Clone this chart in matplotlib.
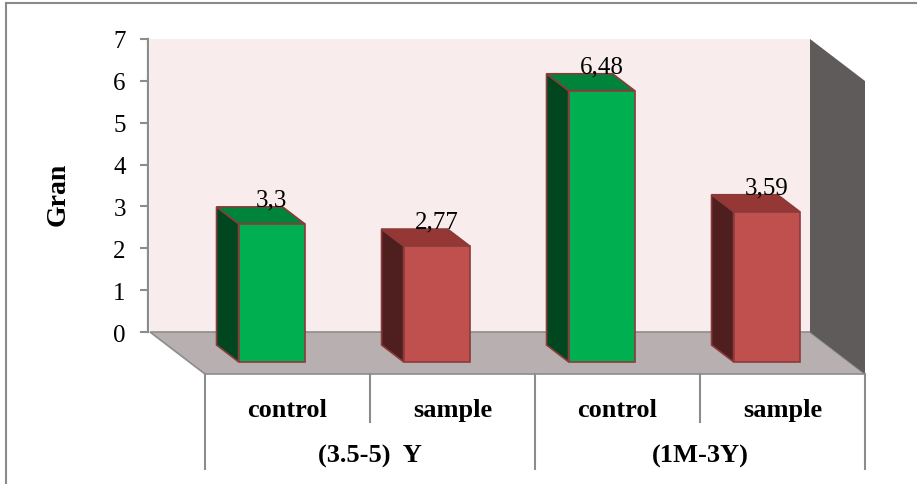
import matplotlib
matplotlib.use("Agg")
import matplotlib.pyplot as plt
from matplotlib.patches import Polygon
from matplotlib.lines import Line2D

# data
groups = ["(3.5-5)  Y", "(1M-3Y)"]
categories = ["control", "sample", "control", "sample"]
values = [3.3, 2.77, 6.48, 3.59]
value_labels = ["3,3", "2,77", "6,48", "3,59"]
y_label = "Gran"
y_max = 7

# colours (front, side, top)
GREEN = ("#00B050", "#00471F", "#00833A")
RED = ("#C0504D", "#4F1E1E", "#953735")
bar_colors = [GREEN, RED, GREEN, RED]
EDGE = "#8B3A3A"
WALL = "#F8ECEC"
FLOOR = "#B8B0B0"
SIDE = "#5F5B5A"
LINE = "#8C8C8C"

# oblique projection: one unit of depth moves right and down
DX = 0.3333
DY = -1.0033
D_BACK, D_FRONT = 0.31, 0.71
HALF_W = 0.2


def proj(x, v, d):
    return (x + d * DX, v + d * DY)


plt.rcParams["font.family"] = ["Liberation Serif", "DejaVu Serif"]

fig = plt.figure(figsize=(9.17, 4.85), dpi=100)
ax = fig.add_axes([0, 0, 1, 1])
ax.set_xlim(-0.9091, 4.6485)
ax.set_ylim(-3.631, 7.955)
ax.set_facecolor("white")

n = len(categories)

# back wall, floor and right side wall
ax.add_patch(Polygon([proj(0, 0, 0), proj(n, 0, 0), proj(n, y_max, 0), proj(0, y_max, 0)],
                     closed=True, facecolor=WALL, edgecolor="none", zorder=1))
ax.add_patch(Polygon([proj(0, 0, 0), proj(n, 0, 0), proj(n, 0, 1), proj(0, 0, 1)],
                     closed=True, facecolor=FLOOR, edgecolor=LINE, lw=1.2, zorder=1))
ax.add_patch(Polygon([proj(n, 0, 0), proj(n, y_max, 0), proj(n, y_max, 1), proj(n, 0, 1)],
                     closed=True, facecolor=SIDE, edgecolor="none", zorder=1))

# bars
for i, (val, (c_front, c_side, c_top)) in enumerate(zip(values, bar_colors)):
    x0 = i + 0.5 - HALF_W
    x1 = i + 0.5 + HALF_W
    side = [proj(x0, 0, D_BACK), proj(x0, val, D_BACK), proj(x0, val, D_FRONT), proj(x0, 0, D_FRONT)]
    top = [proj(x0, val, D_BACK), proj(x1, val, D_BACK), proj(x1, val, D_FRONT), proj(x0, val, D_FRONT)]
    front = [proj(x0, 0, D_FRONT), proj(x1, 0, D_FRONT), proj(x1, val, D_FRONT), proj(x0, val, D_FRONT)]
    for pts, col in ((side, c_side), (top, c_top), (front, c_front)):
        ax.add_patch(Polygon(pts, closed=True, facecolor=col, edgecolor=EDGE, lw=1.2, zorder=3))
    lx = i + 0.5 + D_FRONT * DX
    ly = val + D_BACK * DY + 0.03
    ax.text(lx, ly, value_labels[i], ha="center", va="baseline", fontsize=18, zorder=4)

# value axis on the back wall
for name in ["top", "right", "bottom"]:
    ax.spines[name].set_visible(False)
ax.spines["left"].set_position(("data", -0.012))
ax.spines["left"].set_bounds(0, y_max)
ax.spines["left"].set_color(LINE)
ax.spines["left"].set_linewidth(1.6)
ax.spines["left"].set_zorder(2)
ax.set_yticks(range(0, y_max + 1))
ax.tick_params(axis="y", direction="out", length=6, width=1.5, color=LINE,
               labelsize=18, pad=10)
ax.set_xticks([])

ax.text(-0.558, 3.30, y_label, rotation=90, ha="center", va="center",
        fontsize=20, fontweight="bold")

# category table under the floor
x_front = DX
v_top = DY
v_long = -3.273
v_short = -2.15
for k in range(n + 1):
    bottom = v_long if k % 2 == 0 else v_short
    ax.plot([k + x_front, k + x_front], [v_top, bottom], color=LINE, lw=1.5, zorder=2)

for i, name in enumerate(categories):
    ax.text(i + 0.5 + x_front, -2.007, name, ha="center", va="baseline",
            fontsize=19, fontweight="bold")
for g, name in enumerate(groups):
    ax.text(2 * g + 1 + x_front, -3.106, name, ha="center", va="baseline",
            fontsize=19, fontweight="bold")

# outer frame (left and top edges)
fx = 6 / 917
fy = 1 - 4 / 485
fig.add_artist(Line2D([fx, 1], [fy, fy], transform=fig.transFigure, color="#8A8A8A", lw=1.5))
fig.add_artist(Line2D([fx, fx], [0, fy], transform=fig.transFigure, color="#8A8A8A", lw=1.5))

fig.savefig("out.png", dpi=100)
